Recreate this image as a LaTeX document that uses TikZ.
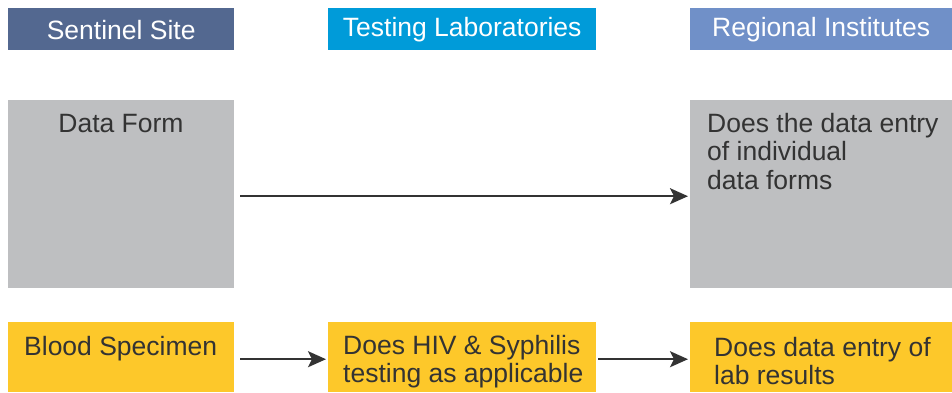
\documentclass[tikz,border=0pt]{standalone}
\usepackage{fontspec}
\setmainfont{Liberation Sans}
\usetikzlibrary{arrows.meta}
\definecolor{hdrA}{HTML}{536890}
\definecolor{hdrB}{HTML}{009BD9}
\definecolor{hdrC}{HTML}{7090C8}
\definecolor{boxgray}{HTML}{BEBFC1}
\definecolor{boxyellow}{HTML}{FDC82A}
\definecolor{ink}{HTML}{333333}
\begin{document}
\begin{tikzpicture}[x=1pt,y=-1pt,
  box/.style={draw=none,inner sep=0,anchor=north west,minimum width=#1},
  hdrtxt/.style={text=white,font=\fontsize{26.5}{29}\selectfont},
  txt/.style={text=ink,font=\fontsize{26.5}{28.5}\selectfont,inner sep=0},
  arr/.style={draw=ink,line width=1.8pt,-{Stealth[length=18pt,width=16pt,inset=4pt]}}]
\useasboundingbox (0,0) rectangle (952,392);
% headers
\node[box=226,minimum height=42,fill=hdrA] (h1) at (8,8) {};
\node[box=268,minimum height=42,fill=hdrB] (h2) at (328,8) {};
\node[box=262,minimum height=42,fill=hdrC] (h3) at (690,8) {};
\node[hdrtxt] at ([yshift=-1pt]h1.center) {Sentinel Site};
\node[hdrtxt] at (h2.center) {Testing Laboratories};
\node[hdrtxt] at (h3.center) {Regional Institutes};
% gray row
\node[box=226,minimum height=188,fill=boxgray] (df) at (8,100) {};
\node[box=262,minimum height=188,fill=boxgray] (rg) at (690,100) {};
\node[txt,anchor=base] at (121,132) {Data Form};
\node[txt,anchor=north west,align=left] at (707,113) {Does the data entry\\of individual\\data forms};
% yellow row
\node[box=226,minimum height=70,fill=boxyellow] (bs) at (8,322) {};
\node[box=268,minimum height=70,fill=boxyellow] (tl) at (328,322) {};
\node[box=262,minimum height=70,fill=boxyellow] (ry) at (690,322) {};
\node[txt,anchor=base west] at (24,355) {Blood Specimen};
\node[txt,anchor=north west,align=left] at (343,335) {Does HIV \& Syphilis\\testing as applicable};
\node[txt,anchor=north west,align=left] at (714,337) {Does data entry of\\lab results};
% arrows
\draw[arr] ([xshift=6pt,yshift=-2pt]df.east) -- ([xshift=-2pt,yshift=-2pt]rg.west);
\draw[arr] ([xshift=6pt,yshift=-2pt]bs.east) -- ([xshift=-2pt,yshift=-2pt]tl.west);
\draw[arr] ([xshift=2pt,yshift=-2pt]tl.east) -- ([xshift=-2pt,yshift=-2pt]ry.west);
\end{tikzpicture}
\end{document}
